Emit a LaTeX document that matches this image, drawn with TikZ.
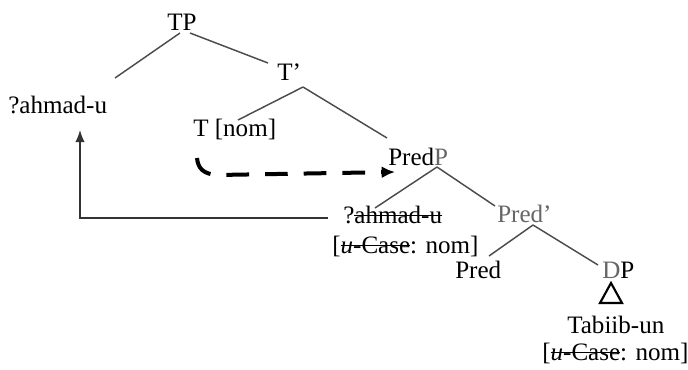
\documentclass[tikz,border=0pt]{standalone}
\usepackage{fontspec}
\setmainfont{Liberation Serif}
\usetikzlibrary{arrows.meta}
\newsavebox\strkbox
\newcommand\strk[1]{\sbox\strkbox{#1}\rlap{\usebox\strkbox}\rule[0.26em]{\wd\strkbox}{0.8pt}}
\begin{document}
\begin{tikzpicture}[x=0.75pt,y=-0.75pt,
  lbl/.style={inner sep=0pt,anchor=base west,font=\fontsize{18.8}{21}\selectfont},
  branch/.style={draw=black!70,line width=1.1pt},
  moveline/.style={draw=black!80,line width=1pt},
  agree/.style={draw=black,line width=3pt,dash pattern=on 17pt off 12pt,line cap=butt}]
\useasboundingbox (0,0) rectangle (688,369);
% nodes
\node[lbl] (TP) at (167,30) {TP};
\node[lbl] (Tbar) at (277,80) {T'};
\node[lbl] (ahmad) at (8,113) {?ahmad-u};
\node[lbl] (Tnom) at (193,136) {T [nom]};
\node[lbl] (PredP) at (388,165) {Pred{\color{black!60}P}};
\node[lbl] (ahmadB) at (343,223) {?\strk{ahmad-u}};
\node[lbl] (caseA) at (332,253) {[\strk{\textit{u}-Case}: nom]};
\node[lbl,text=black!60] (Predbar) at (497,222) {Pred'};
\node[lbl] (Pred) at (455,278) {Pred};
\node[lbl] (DP) at (602,278) {{\color{black!60}D}P};
\node[lbl] (Tabiib) at (567,333) {Tabiib-un};
\node[lbl] (caseB) at (542,360) {[\strk{\textit{u}-Case}: nom]};
% branches
\draw[branch] ([shift={(13,3)}]TP.base west) -- ([shift={(107,-35)}]ahmad.base west);
\draw[branch] ([shift={(23,3)}]TP.base west) -- ([shift={(-9,-17)}]Tbar.base west);
\draw[branch] ([shift={(26,7)}]Tbar.base west) -- ([shift={(45,-16)}]Tnom.base west);
\draw[branch] ([shift={(26,7)}]Tbar.base west) -- ([shift={(-1,-27)}]PredP.base west);
\draw[branch] ([shift={(49,2)}]PredP.base west) -- ([shift={(32,-15)}]ahmadB.base west);
\draw[branch] ([shift={(49,2)}]PredP.base west) -- ([shift={(-2,-16)}]Predbar.base west);
\draw[branch] ([shift={(36,3)}]Predbar.base west) -- ([shift={(34,-22)}]Pred.base west);
\draw[branch] ([shift={(36,3)}]Predbar.base west) -- ([shift={(-4,-13)}]DP.base west);
% triangle
\draw[line width=1.6pt,line join=miter] ([shift={(9,5)}]DP.base west) -- ([shift={(-2,25)}]DP.base west) -- ([shift={(20,25)}]DP.base west) -- cycle;
% movement arrow
\draw[moveline,-{Latex[length=9pt,width=7pt]}] ([shift={(-15,-5)}]ahmadB.base west) -| ([shift={(72,17)}]ahmad.base west);
% agree arrow
\draw[agree,-{Latex[length=10pt,width=9pt]}] ([shift={(4,22)}]Tnom.base west) .. controls ([shift={(5,33)}]Tnom.base west) and ([shift={(11,38)}]Tnom.base west) .. ([shift={(24,39)}]Tnom.base west) -- ([shift={(7,7)}]PredP.base west);
\end{tikzpicture}
\end{document}
